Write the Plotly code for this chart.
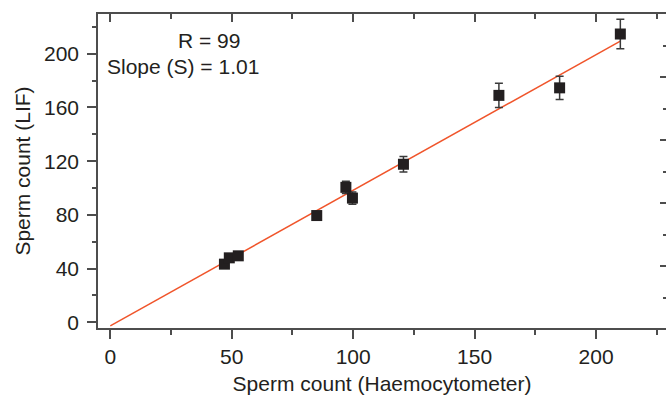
import plotly.graph_objects as go

# Data
haemo = [47.0, 49.0, 52.7, 85.0, 97.0, 99.7, 120.7, 160.0, 185.0, 210.0]
lif = [43.3, 48.0, 49.5, 79.5, 100.5, 92.5, 117.7, 169.0, 174.6, 214.7]
lif_err = [2.0, 2.0, 2.0, 2.5, 4.5, 4.5, 5.8, 9.0, 8.7, 11.0]

fit_slope = 1.01
fit_intercept = -2.7
fit_x = [0, 210]
fit_y = [fit_slope * v + fit_intercept for v in fit_x]

x_ticks = [0, 50, 100, 150, 200]
y_ticks = [0, 40, 80, 120, 160, 200]

FONT = "Liberation Sans, Arial, Helvetica, sans-serif"
TXT = "#231f20"
AX = "#4d4d4d"

fig = go.Figure()
fig.add_trace(go.Scatter(x=fit_x, y=fit_y, mode="lines",
                         line=dict(color="#f0552b", width=1.5), showlegend=False,
                         hoverinfo="skip"))
fig.add_trace(go.Scatter(x=haemo, y=lif, mode="markers",
                         marker=dict(symbol="square", size=11, color=TXT),
                         error_y=dict(type="data", array=lif_err, color="#3a3a3a",
                                      thickness=1.5, width=4),
                         showlegend=False))
# helper traces to activate the mirrored axes
fig.add_trace(go.Scatter(x=[None], y=[None], xaxis="x2", yaxis="y", showlegend=False))
fig.add_trace(go.Scatter(x=[None], y=[None], xaxis="x", yaxis="y2", showlegend=False))

xr = [-5.06, 228.8]
yr = [-4.25, 229.6]

fig.update_layout(
    width=666, height=395, autosize=False,
    margin=dict(l=98, r=0, t=14, b=67, pad=0),
    paper_bgcolor="white", plot_bgcolor="white",
    font=dict(family=FONT, size=21, color=TXT),
    xaxis=dict(range=xr, tickvals=x_ticks, ticks="outside", ticklen=9, tickwidth=1.5,
               tickcolor=AX, showline=True, linecolor=AX, linewidth=1.5, automargin=False,
               showgrid=False, zeroline=False, tickfont=dict(size=21, color=TXT),
               minor=dict(dtick=25, tick0=0, ticks="outside", ticklen=5, tickwidth=1.5, tickcolor=AX),
               title=dict(text="Sperm count (Haemocytometer)", font=dict(size=21, color=TXT), standoff=12)),
    xaxis2=dict(range=xr, overlaying="x", side="top", anchor="y", tickvals=x_ticks, automargin=False,
                ticks="inside", ticklen=8, tickwidth=1.5, tickcolor=AX, showticklabels=False,
                showline=True, linecolor=AX, linewidth=1.5, showgrid=False, zeroline=False,
                minor=dict(dtick=25, tick0=0, ticks="inside", ticklen=5, tickwidth=1.5, tickcolor=AX)),
    yaxis=dict(range=yr, tickvals=y_ticks, ticks="outside", ticklen=9, tickwidth=1.5,
               tickcolor=AX, showline=True, linecolor=AX, linewidth=1.5, automargin=False,
               showgrid=False, zeroline=False, tickfont=dict(size=21, color=TXT),
               ticklabelstandoff=4,
               minor=dict(dtick=20, tick0=0, ticks="outside", ticklen=4, tickwidth=1.5, tickcolor=AX),
               title=dict(text="Sperm count (LIF)", font=dict(size=21, color=TXT), standoff=8)),
    yaxis2=dict(range=[0.016, 5.0], overlaying="y", side="right", anchor="x", dtick=1, tick0=0,
                ticks="inside", ticklen=6, tickwidth=1.5, tickcolor=AX, showticklabels=False,
                showline=False, showgrid=False, zeroline=False, automargin=False,
                minor=dict(dtick=0.5, tick0=0, ticks="inside", ticklen=3, tickwidth=1.5, tickcolor=AX)),
    annotations=[
        dict(text="R = 99", x=40.8, y=209.5, xref="x", yref="y", showarrow=False,
             font=dict(size=21, color=TXT), xanchor="center", yanchor="middle"),
        dict(text="Slope (S) = 1.01", x=29.8, y=190.3, xref="x", yref="y", showarrow=False,
             font=dict(size=21, color=TXT), xanchor="center", yanchor="middle"),
    ],
)

fig.write_html("out.html", config={"displayModeBar": False},
               post_script="document.body.style.margin='0';document.body.style.overflow='hidden';")
